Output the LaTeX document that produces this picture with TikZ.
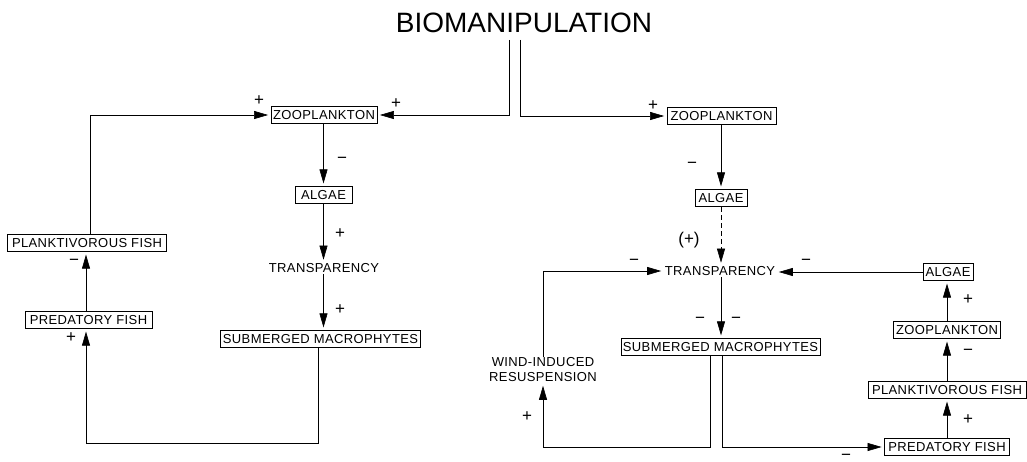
\documentclass[tikz,border=0pt]{standalone}
\usepackage{fontspec}
\setmainfont{Liberation Sans}
\newfontfamily\spacedsans{Liberation Sans}[LetterSpace=3]
\usetikzlibrary{arrows.meta}
\begin{document}
\begin{tikzpicture}[x=1pt,y=-1pt,
  box/.style={draw, line width=0.8pt, font=\spacedsans\fontsize{13}{15}\selectfont, text height=9.4pt, text depth=0pt, inner xsep=2pt, inner ysep=4pt},
  txt/.style={font=\spacedsans\fontsize{13}{15}\selectfont, inner sep=1pt},
  sgn/.style={font=\fontsize{17}{17}\selectfont, inner sep=0pt},
  arr/.style={line width=0.6pt, -{Triangle[length=14pt,width=8pt]}, shorten >=2.5pt},
  dsh/.style={dash pattern=on 5pt off 3pt},
]
\useasboundingbox (0,0) rectangle (1027,462);

% title
\node[inner sep=0pt, anchor=base, font=\fontsize{28}{30}\selectfont] (title) at (524,33) {BIOMANIPULATION};
\coordinate (t1) at (509,40);
\coordinate (t2) at (520,40);

% left chain
\node[box, minimum width=106pt] (zl) at (324,115) {ZOOPLANKTON};
\node[box, minimum width=57pt] (al) at (323.5,195) {ALGAE};
\node[txt] (tl) at (324,268) {TRANSPARENCY};
\node[box, minimum width=195pt] (sl) at (320.5,339) {SUBMERGED MACROPHYTES};
\node[box, minimum width=159pt] (pl) at (87,243) {PLANKTIVOROUS FISH};
\node[box, minimum width=127pt] (fl) at (88.5,320) {PREDATORY FISH};
\coordinate (bl) at (86,443);

\draw[arr] (t1) |- (zl.east);
\draw[arr] ([xshift=3pt]pl.north) |- (zl.west);
\draw[arr] (zl.south -| al.north) -- (al.north);
\draw[arr] (al.south) -- (al.south |- tl.north);
\draw[arr] (tl.south -| al.south) -- (sl.north -| al.south);
\draw[arr] ([xshift=-2.5pt]sl.south) |- (bl) -- ([xshift=-2.5pt]fl.south);
\draw[arr] (fl.north -| bl) -- (pl.south -| bl);

\node[sgn] at (259,101) {+};
\node[sgn] at (396,104) {+};
\node[sgn] at (342,160) {−};
\node[sgn] at (340,234) {+};
\node[sgn] at (340,310) {+};
\node[sgn] at (74,262) {−};
\node[sgn] at (71,338) {+};

% right chain
\node[box, minimum width=109pt] (zr) at (721.5,116) {ZOOPLANKTON};
\node[box, minimum width=52pt] (ar) at (721,198) {ALGAE};
\node[txt] (tr) at (720,271) {TRANSPARENCY};
\node[box, minimum width=199pt] (sr) at (720.5,347) {SUBMERGED MACROPHYTES};
\node[txt, align=center] (wind) at (543,370) {WIND-INDUCED\\RESUSPENSION};
\node[box, minimum width=50pt] (ar2) at (948,272) {ALGAE};
\node[box, minimum width=107pt] (zr2) at (947,330) {ZOOPLANKTON};
\node[box, minimum width=158pt] (plr) at (947,390) {PLANKTIVOROUS FISH};
\node[box, minimum width=125pt] (fr) at (947,447) {PREDATORY FISH};

\draw[arr] (t2) |- (zr.west);
\draw[arr] (zr.south -| ar.north) -- (ar.north);
\draw[arr, dsh] (ar.south) -- (ar.south |- tr.north);
\draw[arr] (wind.north) |- (tr.west);
\draw[arr] (ar2.west) -- (ar2.west -| tr.east);
\draw[arr] (tr.south -| ar.south) -- (sr.north -| ar.south);
\draw[arr] ([xshift=-10pt]sr.south) |- (wind.south |- fr.west) -- (wind.south);
\draw[arr] ([xshift=1.5pt]sr.south) |- (fr.west);
\draw[arr] (fr.north) -- (plr.south -| fr.north);
\draw[arr] (plr.north) -- (zr2.south -| plr.north);
\draw[arr] (zr2.north) -- (ar2.south -| zr2.north);

\node[sgn] at (653,106) {+};
\node[sgn] at (692,165) {−};
\node[sgn] at (689,240) {(+)};
\node[sgn] at (634,262) {−};
\node[sgn] at (806,262) {−};
\node[sgn] at (700,320) {−};
\node[sgn] at (736,320) {−};
\node[sgn] at (527,417) {+};
\node[sgn] at (846,457) {−};
\node[sgn] at (968,300) {+};
\node[sgn] at (968,352) {−};
\node[sgn] at (968,420) {+};
\end{tikzpicture}
\end{document}
